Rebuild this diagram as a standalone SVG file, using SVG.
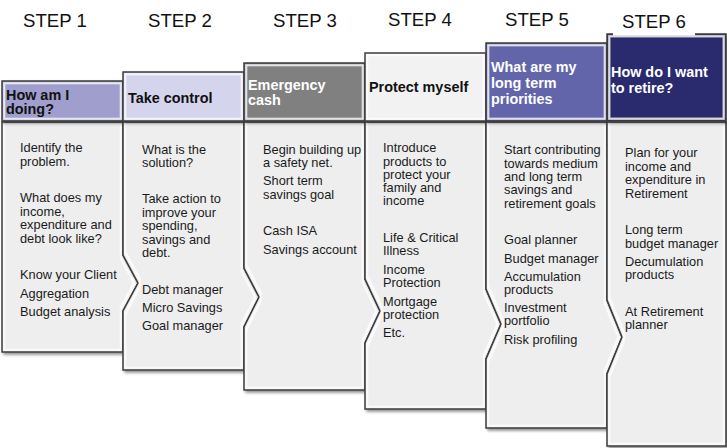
<svg xmlns="http://www.w3.org/2000/svg" width="727" height="448" viewBox="0 0 727 448">
<style>
.step{font-family:"Liberation Sans",Arial,sans-serif;font-size:18.6px;fill:#111}
.hd{font-family:"Liberation Sans",Arial,sans-serif;font-size:14.4px;font-weight:bold}
.tx{font-family:"Liberation Sans",Arial,sans-serif;font-size:12.8px;fill:#1a1a1a}
.edge{stroke:#3c3c3c;stroke-width:1.5;stroke-linejoin:miter}
.body{fill:#eeeeee}
.dk{fill:#111}
.wt{fill:#fff}
</style>
<defs>
<filter id="bev" x="-10%" y="-10%" width="125%" height="125%">
<feGaussianBlur in="SourceAlpha" stdDeviation="1.5" result="b"/>
<feOffset in="b" dx="2" dy="2" result="sh"/>
<feComponentTransfer in="sh" result="sh2"><feFuncA type="linear" slope="0.45"/></feComponentTransfer>
<feMorphology in="SourceAlpha" operator="erode" radius="1.5" result="e1"/>
<feMorphology in="SourceAlpha" operator="erode" radius="3.5" result="e2"/>
<feComposite in="e1" in2="e2" operator="out" result="ring"/>
<feGaussianBlur in="ring" stdDeviation="0.7" result="ringb"/>
<feFlood flood-color="#ffffff" flood-opacity="0.7"/>
<feComposite in2="ringb" operator="in" result="hl"/>
<feMerge><feMergeNode in="sh2"/><feMergeNode in="SourceGraphic"/><feMergeNode in="hl"/></feMerge>
</filter>
</defs>

<g id="steps">
<text class="step" x="23" y="27">STEP 1</text>
<text class="step" x="148" y="27">STEP 2</text>
<text class="step" x="273" y="27">STEP 3</text>
<text class="step" x="388" y="26">STEP 4</text>
<text class="step" x="505" y="26">STEP 5</text>
</g>

<g id="connectors"></g>

<g id="step1">
<path class="body edge" filter="url(#bev)" d="M2,122 H123 V255 L138,283 L123,311 V352 H2 Z"/>
<rect class="edge" filter="url(#bev)" x="2" y="81" width="121" height="40" fill="#9f9ecd"/>
<text class="hd dk" x="6" y="100">How am I<tspan x="6" y="114">doing?</tspan></text>
<text class="tx" x="20"><tspan x="20" y="152">Identify the</tspan><tspan x="20" y="165.5">problem.</tspan><tspan x="20" y="202">What does my</tspan><tspan x="20" y="215.5">income,</tspan><tspan x="20" y="229">expenditure and</tspan><tspan x="20" y="242.5">debt look like?</tspan><tspan x="20" y="279">Know your Client</tspan><tspan x="20" y="297.5">Aggregation</tspan><tspan x="20" y="315.5">Budget analysis</tspan></text>
</g>

<g id="step2">
<path class="body edge" filter="url(#bev)" d="M123,122 H244 V268 L259,297 L244,327 V370 H123 V311 L138,283 L123,255 Z"/>
<rect class="edge" filter="url(#bev)" x="123" y="72" width="121" height="49" fill="#d5d4ed"/>
<text class="hd dk" x="128" y="103">Take control</text>
<text class="tx"><tspan x="142" y="154">What is the</tspan><tspan x="142" y="167">solution?</tspan><tspan x="142" y="203">Take action to</tspan><tspan x="142" y="216.5">improve your</tspan><tspan x="142" y="230">spending,</tspan><tspan x="142" y="243.5">savings and</tspan><tspan x="142" y="257">debt.</tspan><tspan x="142" y="293.5">Debt manager</tspan><tspan x="142" y="311.5">Micro Savings</tspan><tspan x="142" y="330">Goal manager</tspan></text>
</g>

<g id="step3">
<path class="body edge" filter="url(#bev)" d="M244,122 H365 V279 L380,311 L365,343 V390 H244 V327 L259,297 L244,268 Z"/>
<rect class="edge" filter="url(#bev)" x="244" y="63" width="121" height="58" fill="#808080"/>
<text class="hd wt" x="248" y="90">Emergency<tspan x="248" y="105">cash</tspan></text>
<text class="tx"><tspan x="263" y="154">Begin building up</tspan><tspan x="263" y="167">a safety net.</tspan><tspan x="263" y="185">Short term</tspan><tspan x="263" y="198.5">savings goal</tspan><tspan x="263" y="235">Cash ISA</tspan><tspan x="263" y="253.5">Savings account</tspan></text>
</g>

<g id="step4">
<path class="body edge" filter="url(#bev)" d="M365,122 H486 V289 L501,324 L486,359 V409 H365 V343 L380,311 L365,279 Z"/>
<rect class="edge" filter="url(#bev)" x="365" y="53" width="121" height="68" fill="#f2f2f2"/>
<text class="hd dk" x="369" y="92">Protect myself</text>
<text class="tx"><tspan x="383" y="152">Introduce</tspan><tspan x="383" y="165.5">products to</tspan><tspan x="383" y="179">protect your</tspan><tspan x="383" y="192">family and</tspan><tspan x="383" y="205">income</tspan><tspan x="383" y="241.5">Life &amp; Critical</tspan><tspan x="383" y="255">Illness</tspan><tspan x="383" y="273.5">Income</tspan><tspan x="383" y="286.5">Protection</tspan><tspan x="383" y="305.5">Mortgage</tspan><tspan x="383" y="318.5">protection</tspan><tspan x="383" y="336.5">Etc.</tspan></text>
</g>

<g id="step5">
<path class="body edge" filter="url(#bev)" d="M486,122 H607 V300 L622,337 L607,374 V428 H486 V359 L501,324 L486,289 Z"/>
<rect class="edge" filter="url(#bev)" x="486" y="43" width="121" height="78" fill="#6465ab"/>
<text class="hd wt" x="491" y="72">What are my<tspan x="491" y="88">long term</tspan><tspan x="491" y="104">priorities</tspan></text>
<text class="tx"><tspan x="504" y="154">Start contributing</tspan><tspan x="504" y="167.5">towards medium</tspan><tspan x="504" y="181">and long term</tspan><tspan x="504" y="194">savings and</tspan><tspan x="504" y="207.5">retirement goals</tspan><tspan x="504" y="244">Goal planner</tspan><tspan x="504" y="262.5">Budget manager</tspan><tspan x="504" y="280.5">Accumulation</tspan><tspan x="504" y="293.5">products</tspan><tspan x="504" y="311.5">Investment</tspan><tspan x="504" y="325">portfolio</tspan><tspan x="504" y="344">Risk profiling</tspan></text>
</g>

<g id="step6">
<path class="body edge" filter="url(#bev)" d="M607,122 H726 V446 H607 V374 L622,337 L607,300 Z"/>
<rect class="edge" filter="url(#bev)" x="607" y="34" width="119" height="87" fill="#2b2b6e"/>
<rect x="613" y="18" width="82" height="17.5" fill="#ffffff"/>
<text class="step" x="622" y="28">STEP 6</text>
<text class="hd wt" x="611" y="77">How do I want<tspan x="611" y="93">to retire?</tspan></text>
<text class="tx"><tspan x="625" y="157">Plan for your</tspan><tspan x="625" y="170.5">income and</tspan><tspan x="625" y="184">expenditure in</tspan><tspan x="625" y="197.5">Retirement</tspan><tspan x="625" y="234">Long term</tspan><tspan x="625" y="247.5">budget manager</tspan><tspan x="625" y="266">Decumulation</tspan><tspan x="625" y="279">products</tspan><tspan x="625" y="315.5">At Retirement</tspan><tspan x="625" y="329">planner</tspan></text>
</g>
</svg>
